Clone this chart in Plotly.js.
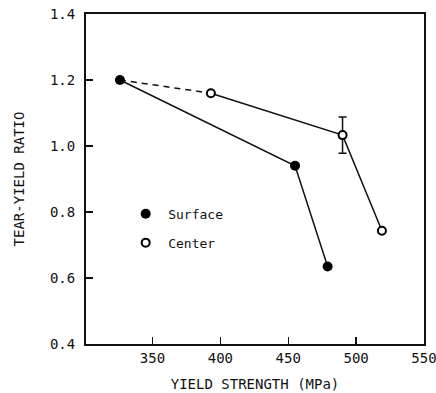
<!DOCTYPE html>
<html><head><meta charset="utf-8">
<script src="https://cdn.plot.ly/plotly-3.0.1.min.js"></script>
<style>body{margin:0;background:#fff}#c{width:436px;height:393px}</style>
</head><body><div id="c"></div>
<script>
const surfaceX = [326, 455, 479];
const surfaceY = [1.20, 0.94, 0.635];
const centerX = [393, 490, 519];
const centerY = [1.16, 1.033, 0.743];
const centerErr = [0, 0.055, 0];
const dashX = [326, 393];
const dashY = [1.20, 1.16];
const xTicks = [350, 400, 450, 500, 550];
const yTicks = [0.4, 0.6, 0.8, 1.0, 1.2, 1.4];

const fnt = "DejaVu Sans Mono, monospace";
const traces = [
  {x: dashX, y: dashY, mode: 'lines', line: {color: '#111', width: 1.5, dash: '6px,5px'}, showlegend: false, hoverinfo: 'skip'},
  {x: surfaceX, y: surfaceY, mode: 'lines', line: {color: '#111', width: 1.5}, showlegend: false},
  {x: centerX, y: centerY, mode: 'lines', line: {color: '#111', width: 1.5}, showlegend: false},
  {x: surfaceX, y: surfaceY, mode: 'markers', name: 'Surface', legendgroup: 'a', marker: {symbol: 'circle', size: 10, color: '#000'}},
  {x: centerX, y: centerY, mode: 'markers', name: 'Center', legendgroup: 'b',
   marker: {symbol: 'circle', size: 8, color: '#fff', line: {color: '#000', width: 2}},
   error_y: {type: 'data', array: centerErr, visible: true, color: '#111', thickness: 1.5, width: 4}}
];
const layout = {
  width: 436, height: 393,
  margin: {l: 86, r: 12, t: 14, b: 49},
  paper_bgcolor: '#fff', plot_bgcolor: '#fff',
  font: {family: fnt, color: '#111', size: 14},
  showlegend: true,
  legend: {x: 0.11, y: 0.44, xanchor: 'left', yanchor: 'top', bgcolor: 'rgba(0,0,0,0)', font: {family: fnt, size: 13},
           traceorder: 'grouped', tracegroupgap: 9, itemwidth: 35},
  xaxis: {range: [301, 550], tickvals: xTicks, ticks: 'inside', ticklen: 7, tickwidth: 1.5, tickcolor: '#111',
          showline: true, linecolor: '#111', linewidth: 2, mirror: true, showgrid: false, zeroline: false,
          tickfont: {family: fnt, size: 14}, ticklabeloverflow: 'allow',
          title: {text: 'YIELD STRENGTH (MPa)', font: {family: fnt, size: 14}, standoff: 14}},
  yaxis: {range: [0.4, 1.4], tickvals: yTicks, tickformat: '.1f', ticks: 'inside', ticklen: 7, tickwidth: 1.5, tickcolor: '#111',
          showline: true, linecolor: '#111', linewidth: 2, mirror: true, showgrid: false, zeroline: false,
          tickfont: {family: fnt, size: 14}, ticklabelstandoff: 6,
          title: {text: 'TEAR-YIELD RATIO', font: {family: fnt, size: 14}, standoff: 22}}
};
Plotly.newPlot('c', traces, layout, {displayModeBar: false, staticPlot: true});
</script></body></html>
